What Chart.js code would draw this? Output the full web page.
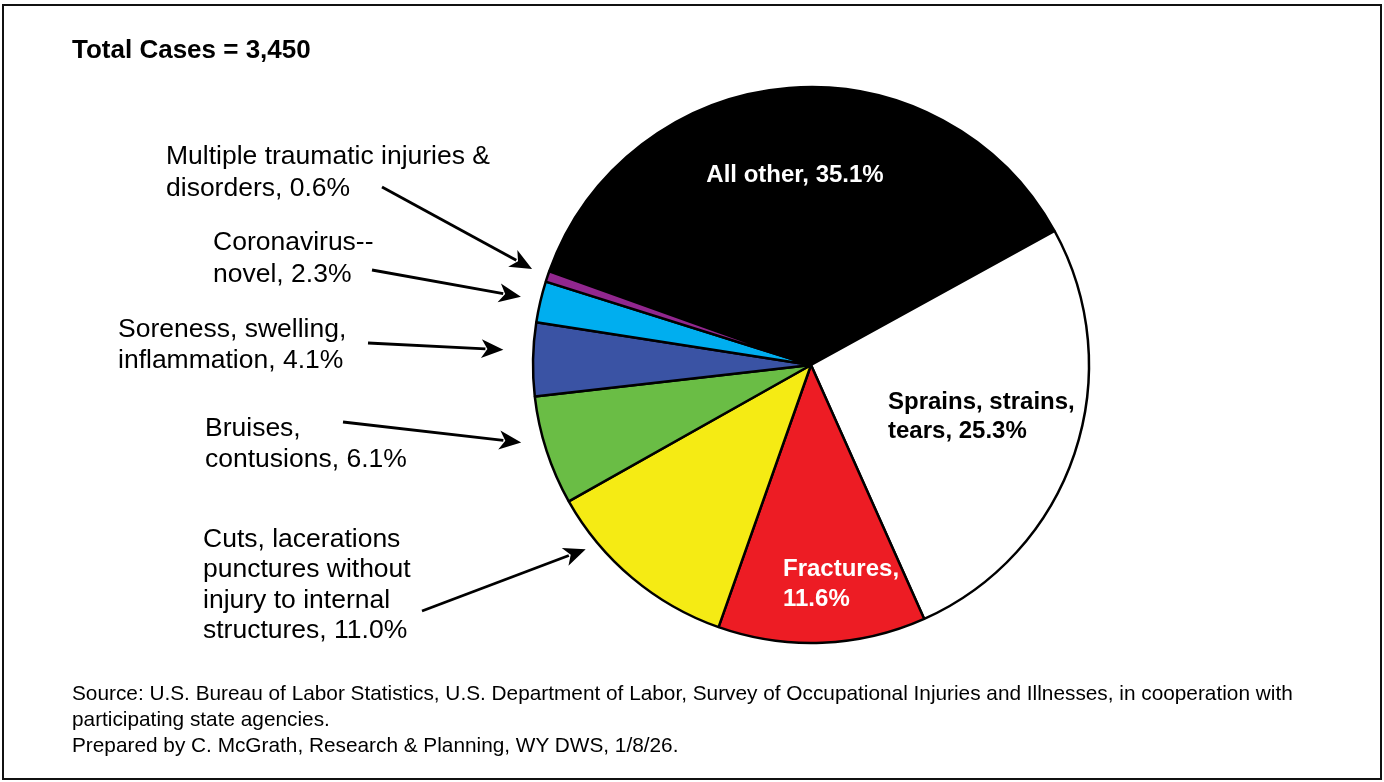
<!DOCTYPE html>
<html>
<head>
<meta charset="utf-8">
<script src="https://cdn.jsdelivr.net/npm/chart.js@4.4.0/dist/chart.umd.min.js"></script>
<style>
  html, body { margin: 0; padding: 0; background: #fff; }
  body { width: 1384px; height: 782px; position: relative; overflow: hidden; font-family: "Liberation Sans", Arial, sans-serif; color: #000; }
  #frame { position: absolute; left: 2px; top: 4px; width: 1376px; height: 772px; border: 2px solid #111; }
  #injuryChart { position: absolute; left: 0; top: 0; }
  #title { position: absolute; left: 72px; top: 34px; font-weight: bold; font-size: 26px; }
  #source { position: absolute; left: 72px; top: 680px; font-size: 20.8px; line-height: 26px; white-space: nowrap; }
</style>
</head>
<body>
<div id="frame"></div>
<canvas id="injuryChart" width="1384" height="782"></canvas>
<div id="title">Total Cases = 3,450</div>
<div id="source">Source: U.S. Bureau of Labor Statistics, U.S. Department of Labor, Survey of Occupational Injuries and Illnesses, in cooperation with<br>participating state agencies.<br>Prepared by C. McGrath, Research &amp; Planning, WY DWS, 1/8/26.</div>
<script>
// Data (percent of total cases)
const categories = [
  "All other",
  "Sprains, strains, tears",
  "Fractures",
  "Cuts, lacerations punctures without injury to internal structures",
  "Bruises, contusions",
  "Soreness, swelling, inflammation",
  "Coronavirus--novel",
  "Multiple traumatic injuries & disorders"
];
const shares = [35.1, 25.3, 11.6, 11.0, 6.1, 4.1, 2.3, 0.6];
const sliceColors = ["#000000", "#ffffff", "#ed1c24", "#f5eb14", "#6abd45", "#3a53a4", "#00aeef", "#92278f"];

// label text, one array of lines per slice
const labelLines = [
  ["All other, 35.1%"],
  ["Sprains, strains,", "tears, 25.3%"],
  ["Fractures,", "11.6%"],
  ["Cuts, lacerations", "punctures without", "injury to internal", "structures, 11.0%"],
  ["Bruises,", "contusions, 6.1%"],
  ["Soreness, swelling,", "inflammation, 4.1%"],
  ["Coronavirus--", "novel, 2.3%"],
  ["Multiple traumatic injuries &", "disorders, 0.6%"]
];

// where each label sits (first baseline), and for callouts where the arrow starts
const labelStyle = [
  { x: 795, y: 182, align: "center", color: "#fff", bold: true, lh: 30 },
  { x: 888, y: 409, align: "left", color: "#000", bold: true, lh: 29 },
  { x: 783, y: 576, align: "left", color: "#fff", bold: true, lh: 30 },
  { x: 203, y: 547, align: "left", color: "#000", lh: 30.3, arrow: { x: 422, y: 611, frac: 0.76, gap: 13 } },
  { x: 205, y: 436, align: "left", color: "#000", lh: 30.5, arrow: { x: 343, y: 422, frac: 0.63, gap: 22 } },
  { x: 118, y: 337, align: "left", color: "#000", lh: 31, arrow: { x: 368, y: 343, frac: 0.61, gap: 30 } },
  { x: 213, y: 250, align: "left", color: "#000", lh: 31.5, arrow: { x: 372, y: 270, frac: 0.51, gap: 20 } },
  { x: 166, y: 164, align: "left", color: "#000", lh: 31.5, arrow: { x: 382, y: 187, frac: 0.69, gap: 17 } }
];

function drawArrow(ctx, x1, y1, x2, y2) {
  const ang = Math.atan2(y2 - y1, x2 - x1);
  const headLen = 22, headHalf = 9.5;
  const bx = x2 - headLen * Math.cos(ang);
  const by = y2 - headLen * Math.sin(ang);
  ctx.beginPath();
  ctx.moveTo(x1, y1);
  ctx.lineTo(bx + 4 * Math.cos(ang), by + 4 * Math.sin(ang));
  ctx.stroke();
  ctx.beginPath();
  ctx.moveTo(x2, y2);
  ctx.lineTo(bx - headHalf * Math.sin(ang), by + headHalf * Math.cos(ang));
  ctx.lineTo(bx + 6 * Math.cos(ang), by + 6 * Math.sin(ang));
  ctx.lineTo(bx + headHalf * Math.sin(ang), by - headHalf * Math.cos(ang));
  ctx.closePath();
  ctx.fill();
}

const sliceLabels = {
  id: "sliceLabels",
  afterDatasetsDraw(chart) {
    const ctx = chart.ctx;
    const arcs = chart.getDatasetMeta(0).data;
    ctx.save();
    arcs.forEach((arc, i) => {
      const st = labelStyle[i];
      ctx.fillStyle = st.color;
      ctx.textAlign = st.align;
      ctx.textBaseline = "alphabetic";
      ctx.font = (st.bold ? "bold 24px" : "26.5px") + ' "Liberation Sans", Arial, sans-serif';
      labelLines[i].forEach((line, k) => {
        ctx.fillText(line, st.x, st.y + k * st.lh);
      });
      if (st.arrow) {
        const a = arc.startAngle + st.arrow.frac * (arc.endAngle - arc.startAngle);
        const r = arc.outerRadius + st.arrow.gap;
        ctx.strokeStyle = "#000";
        ctx.fillStyle = "#000";
        ctx.lineWidth = 2.8;
        drawArrow(ctx, st.arrow.x, st.arrow.y, arc.x + r * Math.cos(a), arc.y + r * Math.sin(a));
      }
    });
    ctx.restore();
  }
};

new Chart(document.getElementById("injuryChart"), {
  type: "pie",
  data: {
    labels: categories,
    datasets: [{
      data: shares,
      backgroundColor: sliceColors,
      borderColor: "#000",
      borderWidth: 2.5
    }]
  },
  options: {
    responsive: false,
    animation: false,
    devicePixelRatio: 1,
    rotation: -70.3,
    radius: 278,
    layout: { padding: { left: 238, right: 0, top: 0, bottom: 52 } },
    plugins: {
      legend: { display: false },
      tooltip: { enabled: false }
    }
  },
  plugins: [sliceLabels]
});
</script>
</body>
</html>
